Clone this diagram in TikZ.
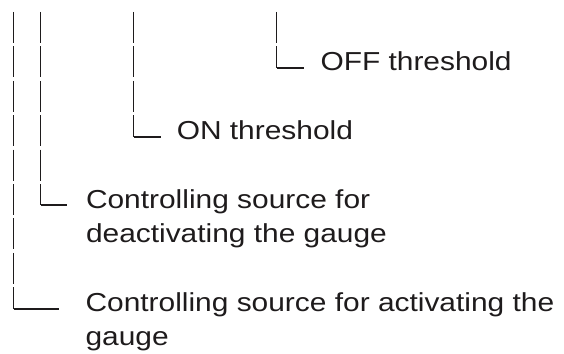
\documentclass[tikz,border=0pt]{standalone}
\usepackage{fontspec}
\setmainfont{Liberation Sans}[FakeStretch=1.15]
\usepackage{tikz}
\definecolor{TreeInk}{RGB}{30,27,28}

\begin{document}
\begin{tikzpicture}[x=1pt, y=-1pt,
    lbl/.style={anchor=base west, inner sep=0pt, text=TreeInk, font=\fontsize{26}{34.4}\selectfont},
    pipe/.style={draw=TreeInk, line width=1.9pt, dash pattern=on 31pt off 3.4pt},
    elbow/.style={draw=TreeInk, line width=1.9pt}
]
\useasboundingbox (0,0) rectangle (564,353);

% labels
\node[lbl] (offlbl) at (320.3,70.4) {OFF threshold};
\node[lbl] (onlbl) at (176.6,139.2) {ON threshold};
\node[lbl] (deactlbl) at (85.8,208) {Controlling source for};
\node[lbl] (deactlbl2) at (85.8,242.4) {deactivating the gauge};
\node[lbl] (actlbl) at (85.4,311.2) {Controlling source for activating the};
\node[lbl] (actlbl2) at (85.4,345.6) {gauge};

% free upper ends of the branches
\coordinate (offtop) at (276.5,12);
\coordinate (ontop) at (133.5,12);
\coordinate (deacttop) at (40.5,12);
\coordinate (acttop) at (13.5,12);

% branches
\draw[pipe] (offtop) -- (offtop |- offlbl.mid) coordinate (offknee);
\draw[elbow] (offknee) -- ([xshift=-16.5pt]offlbl.mid west);
\draw[pipe] (ontop) -- (ontop |- onlbl.mid) coordinate (onknee);
\draw[elbow] (onknee) -- ([xshift=-15.9pt]onlbl.mid west);
\draw[pipe] (deacttop) -- (deacttop |- deactlbl.mid) coordinate (deactknee);
\draw[elbow] (deactknee) -- ([xshift=-19.1pt]deactlbl.mid west);
\draw[pipe] (acttop) -- (acttop |- actlbl.mid) coordinate (actknee);
\draw[elbow] (actknee) -- ([xshift=-26.1pt]actlbl.mid west);
\end{tikzpicture}
\end{document}
